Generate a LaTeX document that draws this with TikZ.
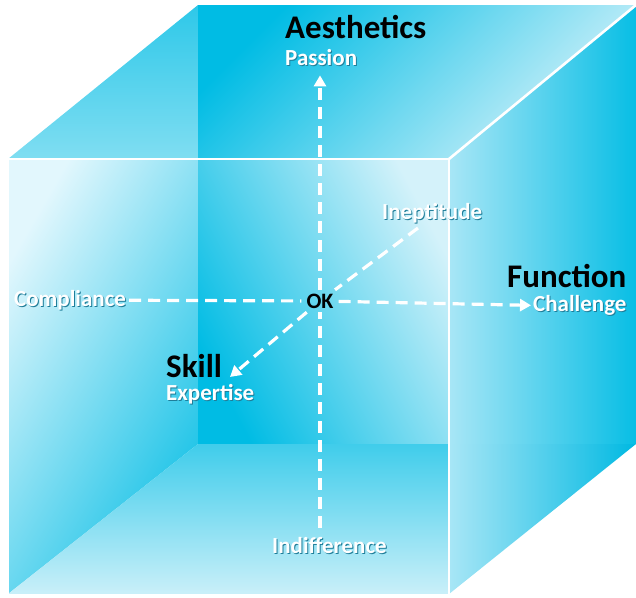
\documentclass[tikz,border=0pt]{standalone}
\usepackage{fontspec}
\setmainfont{Carlito}
\usetikzlibrary{arrows.meta}

% glass cube palette
\definecolor{cyanS}{HTML}{00BCE4}
\definecolor{cyanDeep}{HTML}{00B9E2}
\definecolor{cyanM}{HTML}{48CDED}
\definecolor{cyanL}{HTML}{A8E6F6}
\definecolor{cyanXL}{HTML}{D4F2FA}
\definecolor{cyanWhite}{HTML}{E2F7FD}
\definecolor{labelshadow}{HTML}{1F7E9A}

% white label with a soft dark drop shadow
\newcommand\withshadow[1]{\rlap{\kern1pt\raisebox{-1pt}{\textcolor{labelshadow}{#1}}}#1}

\tikzset{
  axisline/.style={white, line width=3.2pt, dash pattern=on 12pt off 7pt},
  axisarrow/.style={axisline, -{Triangle[length=11pt,width=12pt]}},
  heading/.style={font=\bfseries\fontsize{33}{33}\selectfont, text=black, inner sep=0pt},
  pole/.style={font=\bfseries\fontsize{23}{23}\selectfont, text=white, inner sep=0pt},
  origin/.style={font=\bfseries\fontsize{22}{22}\selectfont, text=black,
    inner xsep=5pt, inner ysep=4pt, text height=14pt, text depth=0pt},
  cubeedge/.style={white, line width=2.6pt},
  cubeborder/.style={white, line width=1pt},
}

\begin{document}
\begin{tikzpicture}[x=1pt,y=-1pt]
\useasboundingbox (0,0) rectangle (636,597);

% corners of the cube: front face F, back face B
\coordinate (F1) at (8,159);
\coordinate (F2) at (449,159);
\coordinate (F3) at (449,594);
\coordinate (F4) at (8,594);
\coordinate (B1) at (198,5);
\coordinate (B2) at (636,5);
\coordinate (B3) at (636,444);
\coordinate (B4) at (198,444);
\coordinate (T) at (198,159);
\coordinate (R) at (449,444);

% top face, left of the back edge
\shade[top color=cyanS!82!white, bottom color=cyanS!50!white] (F1) -- (B1) -- (T) -- cycle;
% top face over the back wall
\shade[top color=cyanS, bottom color=cyanXL, shading angle=45] (B1) -- (B2) -- (F2) -- (T) -- cycle;
% front face over the left wall
\shade[top color=cyanWhite, middle color=cyanS!55!white, bottom color=cyanS!92!white, shading angle=60]
  (F1) -- (T) -- (B4) -- (F4) -- cycle;
% front face over the back wall
\shade[top color=cyanXL, middle color=cyanM, bottom color=cyanS, shading angle=-62]
  (T) -- (F2) -- (R) -- (B4) -- cycle;
% floor
\shade[top color=cyanS!75!white, bottom color=cyanXL!95!cyanS] (B4) -- (R) -- (F3) -- (F4) -- cycle;
% right face, upper part
\shade[left color=cyanL, right color=cyanS!97!white] (F2) -- (B2) -- (B3) -- (R) -- cycle;
% right face, below the floor line
\shade[left color=cyanL, middle color=cyanS!92!white, right color=cyanDeep] (R) -- (B3) -- (F3) -- cycle;

% cube edges
\draw[cubeborder] (F1) -- (F4) -- (F3);
\draw[cubeedge] (F1) -- (F2) -- (F3);
\draw[cubeedge] (F2) -- (B2);

% axis labels
\node[heading, anchor=base west] (aesthetics) at (285,38) {Aesthetics};
\node[pole, anchor=base west] (passion) at (285,65) {\withshadow{Passion}};
\node[heading, anchor=base west] (function) at (507,287) {Function};
\node[pole, anchor=base west] (challenge) at (533,311) {\withshadow{Challenge}};
\node[heading, anchor=base west] (skill) at (166,377) {Skill};
\node[pole, anchor=base west] (expertise) at (166,400) {\withshadow{Expertise}};
\node[pole, anchor=base west] (compliance) at (14,306) {\withshadow{Compliance}};
\node[pole, anchor=base west] (ineptitude) at (382,219) {\withshadow{Ineptitude}};
\node[pole, anchor=base west] (indifference) at (272,553) {\withshadow{Indifference}};
\node[origin] (ok) at (320,301) {OK};

% free ends of the depth axis
\coordinate (depthback) at (418,228);
\coordinate (depthfront) at (230,377);

% axes through the origin
\draw[axisline] (ok |- indifference.north) ++(0,-9) -- (ok);
\draw[axisarrow, shorten >=9pt] (ok) -- (ok |- passion.south);
\draw[axisline, shorten <=3pt] (compliance.east) -- (ok);
\draw[axisarrow, shorten >=2pt] (ok) -- (challenge.west);
\draw[axisline] (depthback) -- (ok);
\draw[axisarrow] (ok) -- (depthfront);
\end{tikzpicture}
\end{document}
